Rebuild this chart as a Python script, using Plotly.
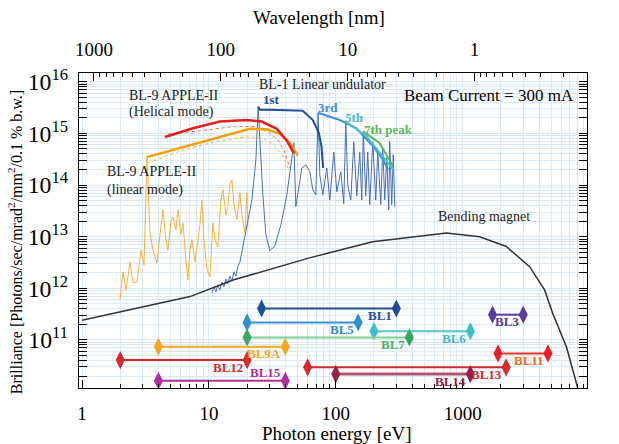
import math
import plotly.graph_objects as go

FONT = "Liberation Serif, Times New Roman, serif"

# ---------------- data ----------------
# Bending magnet (photon energy eV, log10 brilliance)
bm_E = [1.0, 7.1, 15.5, 62, 195, 404, 745, 1360, 2210, 3370, 4420, 5120, 6590, 8050]
bm_logB = [11.38, 11.84, 12.16, 12.59, 12.90, 13.00, 13.07, 13.00, 12.81, 12.42, 11.97, 11.52, 10.86, 10.08]

# BL-1 linear undulator harmonic envelopes
h1_E = [24.44, 25.2, 30.2, 55.0, 65.9, 73.5, 77.1, 79.5]
h1_logB = [15.52, 15.46, 15.46, 15.44, 15.26, 15.01, 14.75, 14.33]
h3_E = [72.6, 107.5, 145.4, 196.7, 235.7, 258]
h3_logB = [15.40, 15.26, 15.10, 14.75, 14.49, 14.30]
h5_E = [120, 174.6, 235.7, 282.6]
h5_logB = [15.23, 14.94, 14.55, 14.30]
h7_E = [164, 222, 282.6]
h7_logB = [15.04, 14.81, 14.36]

# BL-1 spectrum (thin blue)
bl1_E = [10.56, 10.95, 11.35, 11.77, 12.21, 12.66, 13.13, 13.61, 14.11, 14.64, 15.18, 15.74, 16.32, 16.92,
         17.55, 19.56, 21.81, 23.45, 24.44, 25.21, 26.62, 28.11, 30.22, 33.09, 36.90, 41.14, 45.03, 46.70,
         48.42, 51.13, 54.00, 58.04, 62.41, 65.90, 69.58, 72.55, 74.82, 78.99, 84.93, 89.70, 96.45, 101.8,
         109.5, 115.6, 119.9, 124.3, 131.3, 138.6, 146.4, 154.5, 160.2, 164.6, 172.3, 178.6, 185.2, 195.6,
         206.5, 214.1, 226.1, 234.5, 243.1, 252.1, 261.4, 266.2, 276.0, 283.7, 291.5]
bl1_logB = [11.91, 12.03, 11.93, 12.07, 11.97, 12.12, 12.03, 12.18, 12.09, 12.24, 12.14, 12.32, 12.24, 12.43,
            12.51, 13.09, 13.71, 14.49, 15.52, 14.88, 13.81, 13.04, 12.73, 12.82, 13.23, 13.81, 14.49, 14.82,
            13.58, 14.00, 14.33, 14.39, 14.26, 13.91, 13.81, 15.40, 14.20, 13.81, 14.33, 13.71, 14.64, 13.87,
            14.26, 13.64, 15.23, 14.00, 13.71, 14.84, 13.79, 14.64, 13.71, 15.03, 13.79, 14.64, 13.62, 14.84,
            13.71, 14.64, 13.62, 14.72, 13.71, 14.53, 13.52, 14.84, 13.62, 14.59, 13.58]

# BL-9 APPLE-II
hel_E = [4.503, 7.482, 12.21, 19.92, 26.14, 34.31, 41.14, 46.70]
hel_logB = [14.93, 15.10, 15.23, 15.26, 15.23, 15.09, 14.86, 14.62]
hel_d_E = [4.756, 8.494, 15.45, 23.02, 29.15, 34.94, 39.67, 43.43]
hel_d_logB = [14.99, 15.05, 15.13, 15.13, 15.03, 14.88, 14.64, 14.33]
lin_E = [3.25, 7.482, 13.86, 21.03, 28.62, 36.23, 43.43, 50.21]
lin_logB = [14.54, 14.78, 14.97, 15.09, 15.08, 14.99, 14.82, 14.57]
lin_d_E = [3.309, 5.911, 11.15, 19.21, 26.14, 33.09, 38.95, 41.88]
lin_d_logB = [14.43, 14.66, 14.84, 14.93, 14.92, 14.76, 14.53, 14.33]
lin_spec_E = [1.991, 2.102, 2.221, 2.388, 2.520, 2.711, 2.914, 3.077, 3.250, 3.430, 3.623, 3.895, 4.114,
              4.343, 4.585, 4.756, 5.021, 5.206, 5.498, 5.700, 6.018, 6.241, 6.590, 6.834, 7.087, 7.347,
              7.758, 8.044, 8.494, 8.808, 9.134, 9.645, 10.18, 10.75, 11.15, 11.77, 12.43, 12.89, 13.61,
              14.11, 14.64, 15.18, 15.74, 16.62, 17.55, 18.19, 19.21, 19.92, 20.28]
lin_spec_logB = [11.78, 12.32, 11.97, 12.51, 12.11, 12.12, 12.74, 12.45, 14.55, 13.07, 12.74, 12.49, 13.04,
                 13.52, 12.94, 12.74, 13.29, 13.38, 13.13, 13.52, 13.04, 13.27, 12.55, 12.16, 12.74, 12.94,
                 12.51, 12.80, 13.23, 13.71, 12.94, 12.36, 12.22, 13.27, 12.94, 12.80, 13.71, 13.91, 13.42,
                 13.58, 14.00, 14.10, 13.62, 13.33, 13.85, 13.42, 13.07, 13.85, 13.19]

# Beamline energy ranges
bl_names = ["BL1", "BL3", "BL5", "BL6", "BL7", "BL9A", "BL11", "BL12", "BL13", "BL14", "BL15"]
bl_Emin = [26, 1720, 20, 200, 20, 4, 1900, 2, 60, 100, 4]
bl_Emax = [300, 3000, 150, 1150, 380, 40, 4700, 20, 2200, 1150, 40]
bl_level = [11.61, 11.49, 11.34, 11.17, 11.05, 10.87, 10.74, 10.61, 10.47, 10.34, 10.21]

x_ticks = [1, 10, 100, 1000, 10000]
wl_ticks = [1000, 100, 10, 1]

# ---------------- styles ----------------
bl_line_col = {"BL1": "#1f4e9c", "BL3": "#5a3c9c", "BL5": "#3a8fd0", "BL6": "#5ac6cc", "BL7": "#7dcf95",
               "BL9A": "#f5a623", "BL11": "#e8302a", "BL12": "#d42a2a", "BL13": "#d42a2a", "BL14": "#b4546f",
               "BL15": "#b0309a"}
bl_mark_col = {"BL1": "#1f4e9c", "BL3": "#5a3c9c", "BL5": "#2f8fd0", "BL6": "#3dbdc6", "BL7": "#3aa860",
               "BL9A": "#f5a623", "BL11": "#e8202a", "BL12": "#d42a2a", "BL13": "#d42a2a", "BL14": "#9a1f48",
               "BL15": "#b0309a"}
bl_text_col = {"BL1": "#1f4e9c", "BL3": "#5a3c9c", "BL5": "#2f8fd0", "BL6": "#3dbdc6", "BL7": "#4cb060",
               "BL9A": "#f5a623", "BL11": "#f06a20", "BL12": "#d42a2a", "BL13": "#d42a2a", "BL14": "#9a1f48",
               "BL15": "#b0309a"}
labels_above = {"BL15"}

GRID = "#d9e9f5"


def B(lst):
    return [10 ** v for v in lst]


fig = go.Figure()


def line(E, logB, color, width, dash=None, opacity=1.0):
    fig.add_trace(go.Scatter(x=E, y=B(logB), mode="lines", opacity=opacity,
                             line=dict(color=color, width=width, dash=dash),
                             hoverinfo="skip", showlegend=False))


line(lin_spec_E, lin_spec_logB, "#f2b33d", 1)
line(bl1_E, bl1_logB, "#4a6fb5", 1)
line(bm_E, bm_logB, "#333333", 1.5)
line(hel_d_E, hel_d_logB, "#ee6a50", 1, dash="dot")
line(lin_d_E, lin_d_logB, "#f5b040", 1, dash="dot")
line(lin_E, lin_logB, "#f5a000", 2.5)
line(hel_E, hel_logB, "#e02020", 2.5)
line(h1_E, h1_logB, "#1f4e9c", 2)
line(h3_E, h3_logB, "#3d8fd6", 2)
line(h5_E, h5_logB, "#4cc0d4", 2)
line(h7_E, h7_logB, "#5cb85c", 2)

annotations = []
for name, e0, e1, lv in zip(bl_names, bl_Emin, bl_Emax, bl_level):
    fig.add_trace(go.Scatter(x=[e0, e1], y=[10 ** lv, 10 ** lv], mode="lines+markers",
                             line=dict(color=bl_line_col[name], width=3 if name == "BL14" else 2),
                             marker=dict(symbol="diamond-tall", size=13, color=bl_mark_col[name]),
                             hoverinfo="skip", showlegend=False))
    above = name in labels_above
    annotations.append(dict(x=math.log10(e1), y=lv, xref="x", yref="y", text="<b>%s</b>" % name,
                            showarrow=False, xanchor="right", yanchor="middle",
                            xshift=-2, yshift=8 if above else -7,
                            font=dict(family=FONT, size=13, color=bl_text_col[name])))


def pap(text, x, y, size, color="black", xanchor="center", angle=0):
    annotations.append(dict(x=x, y=y, xref="paper", yref="paper", text=text, showarrow=False,
                            xanchor=xanchor, yanchor="middle", textangle=angle,
                            font=dict(family=FONT, size=size, color=color)))


pap("Wavelength [nm]", 0.472, 1.175, 19)
pap("Photon energy [eV]", 0.508, -0.145, 19)
pap("Brilliance [Photons/sec/mrad<sup>2</sup>/mm<sup>2</sup>/0.1 % b.w.]", -0.126, 0.463, 16, angle=-90)
pap("Beam Current = 300 mA", 0.807, 0.930, 17)
pap("Bending magnet", 0.797, 0.543, 14, color="#222")
pap("BL-1 Linear undulator", 0.480, 0.965, 14, color="#222")
pap("BL-9 APPLE-II", 0.0945, 0.930, 14, color="#222", xanchor="left")
pap("(Helical mode)", 0.0945, 0.876, 14, color="#222", xanchor="left")
pap("BL-9 APPLE-II", 0.0512, 0.686, 14, color="#222", xanchor="left")
pap("(linear mode)", 0.0512, 0.629, 14, color="#222", xanchor="left")
pap("<b>1st</b>", 0.379, 0.917, 13, color="#1f4e9c")
pap("<b>3rd</b>", 0.491, 0.889, 13, color="#3d8fd6")
pap("<b>5th</b>", 0.543, 0.860, 13, color="#45bcd0")
pap("<b>7th peak</b>", 0.609, 0.822, 13, color="#5cb85c")

x_lo, x_hi = -0.024, 3.98
HC = 1239.84
wl_lo, wl_hi = HC / 10 ** x_lo, HC / 10 ** x_hi

# invisible carrier so that the top wavelength axis is drawn
fig.add_trace(go.Scatter(x=[wl_lo, wl_hi], y=[1e13, 1e13], xaxis="x2", mode="markers",
                         marker=dict(opacity=0), hoverinfo="skip", showlegend=False))

tickfont = dict(family=FONT, size=19, color="black")
minor = dict(dtick="D1", ticks="inside", ticklen=4, tickcolor="black", showgrid=True, gridcolor=GRID,
             gridwidth=1)

fig.update_layout(
    width=619, height=444,
    margin=dict(l=79, r=32, t=73, b=56),
    paper_bgcolor="white", plot_bgcolor="white",
    showlegend=False,
    annotations=annotations,
    xaxis=dict(type="log", range=[x_lo, x_hi], tickvals=x_ticks, ticktext=[str(v) for v in x_ticks],
               ticks="inside", ticklen=8, tickcolor="black", showline=True, linecolor="black", linewidth=1.3,
               mirror=False, showgrid=True, gridcolor=GRID, minor=minor, tickfont=tickfont,
               ticklabelstandoff=8, zeroline=False),
    xaxis2=dict(type="log", overlaying="x", side="top", anchor="y",
                range=[math.log10(wl_lo), math.log10(wl_hi)],
                tickvals=wl_ticks, ticktext=[str(v) for v in wl_ticks],
                ticks="inside", ticklen=8, tickcolor="black", showline=True, linecolor="black", linewidth=1.3,
                showgrid=False, minor=dict(dtick="D1", ticks="inside", ticklen=4, tickcolor="black"),
                tickfont=tickfont, ticklabelstandoff=8, zeroline=False),
    yaxis=dict(type="log", range=[10.07, 16.17], dtick=1, exponentformat="power",
               ticks="inside", ticklen=8, tickcolor="black", showline=True, linecolor="black", linewidth=1.3,
               mirror="allticks", showgrid=True, gridcolor=GRID, minor=minor, tickfont=tickfont,
               ticklabelstandoff=6, zeroline=False),
)

fig.write_html("out.html")
